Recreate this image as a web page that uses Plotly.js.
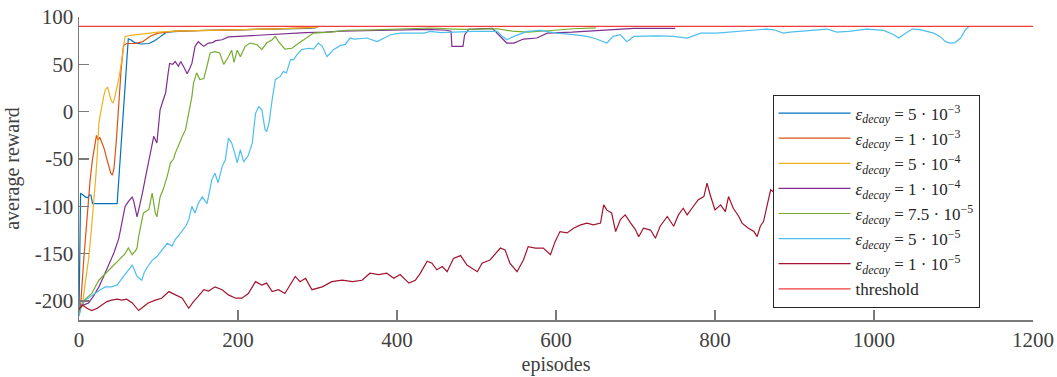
<!DOCTYPE html>
<html>
<head>
<meta charset="utf-8">
<script src="https://cdn.plot.ly/plotly-3.0.1.min.js"></script>
<style>html,body{margin:0;padding:0;background:#fff;}</style>
</head>
<body>
<div id="chart" style="width:1057px;height:377px;"></div>
<script>
// ---------------- data (episode, average reward) ----------------
const seriesNames = [
  '<i>ε</i><sub><i>decay</i></sub> = 5 · 10<sup>−3</sup>',
  '<i>ε</i><sub><i>decay</i></sub> = 1 · 10<sup>−3</sup>',
  '<i>ε</i><sub><i>decay</i></sub> = 5 · 10<sup>−4</sup>',
  '<i>ε</i><sub><i>decay</i></sub> = 1 · 10<sup>−4</sup>',
  '<i>ε</i><sub><i>decay</i></sub> = 7.5 · 10<sup>−5</sup>',
  '<i>ε</i><sub><i>decay</i></sub> = 5 · 10<sup>−5</sup>',
  '<i>ε</i><sub><i>decay</i></sub> = 1 · 10<sup>−5</sup>'
];
const thresholdName = 'threshold';

const ep_5e3 = [0,2,5,8,11,13,15,17,30,48,62,65,70,78,88,95,102,110,130,160,200,250,290,300];
const r_5e3  = [-215,-86,-88,-90,-91,-88,-88,-97,-97,-97,77,76,73,71.5,72,75,79,84,85,86,86.5,87,88,89];

const ep_1e3 = [0,2,6,10,14,17,20,22,24,26,29,32,35,38,40,42,44,47,50,53,56,60,70,80,90,100,120,150,200,250,300];
const r_1e3  = [-212,-205,-156,-111,-72,-50,-33,-25,-30,-27,-33,-40,-50,-60,-65,-67,-60,-30,10,45,70,72,72,74,80,83,85,85.5,86.5,87.5,89];

const ep_5e4 = [0,4,8,12,15,18,21,23,25,27,29,31,33,36,39,41,43,45,48,50,53,56,58,65,80,100,121,150,200,250,300];
const r_5e4  = [-210,-206,-180,-156,-130,-104,-70,-45,-12,-2,9,16,23,26,16,11,9,15,27,34,50,70,79.5,80.5,82,84,85,85.5,86.5,87.5,89];

const ep_1e4 = [0,2,6,12,18,25,30,35,40,44,50,54,58,62,67,69,71,73,75,77,80,83,87,90,94,98,100,102,105,109,112,114,118,121,125,128,132,136,139,142,146,150,154,157,160,163,168,172,180,188,200,220,240,260,285,310,330,360,400,440,462,468,469,483,485,490,520,526,532,538,547,559,576,589,620,664,698,750];
const r_1e4  = [-215,-206,-204,-202,-195,-185,-176,-167,-158,-149,-134,-118,-100,-95,-90,-95,-105,-111,-104,-97,-85,-72,-54,-40,-26,-33,-15,2,10,20,40,51,50,53,48,53,47,40,45,51,69,74,71,69,71,72.5,73,75,76,79,79.5,80.5,81,82,83.5,84,85,85.5,86,87,86,85,69,69,81,87,88,83,77,72.5,72.5,76.7,77.8,83,84,86,88,88];

const ep_75e5 = [0,2,8,16,25,33,41,50,58,62,67,71,73,75,79,81,85,88,92,94,96,98,100,102,106,111,115,119,121,125,130,134,138,142,144,148,152,157,161,165,171,177,182,188,192,195,199,203,209,215,224,230,236,243,247,251,259,268,274,287,295,316,337,370,400,442,480,526,545,564,590,622,650];
const r_75e5  = [-215,-206,-198,-192,-178,-171,-164,-157,-150,-144,-151,-147,-144,-132,-114,-107,-105,-103,-86,-95,-107,-111,-100,-90,-82,-68,-54,-50,-44,-35,-26,-19,-2,16,30,41,34,35,48,62,63.5,62,50,58,65,52,65,58,69,72.5,70.7,65.5,72.5,76,79.5,74,66,67,71,78,83,84,86,86.5,87.3,88.4,87,87.6,85,84,85.5,87.6,88.5];

const ep_5e5 = [0,3,8,14,20,27,33,41,48,56,62,67,70,73,79,82,86,92,98,104,111,117,121,126,130,135,138,142,146,150,155,161,164,167,171,175,180,184,188,192,196,199,203,207,213,218,222,226,230,234,236,239,243,247,253,257,261,266,270,274,280,289,295,301,306,312,320,329,335,341,346,358,362,375,387,392,404,425,434,442,455,496,526,532,538,547,564,580,601,622,639,650,664,672,681,689,698,727,748,765,782,802,844,865,874,886,894,907,928,941,953,968,991,1012,1025,1031,1037,1048,1058,1075,1083,1090,1096,1102,1109,1115,1119];
const r_5e5  = [-216,-205,-199,-195,-192,-188,-185,-185,-183,-174,-167,-162,-168,-174,-178,-170,-164,-157,-153,-146,-139,-142,-135,-130,-125,-120,-114,-100,-107,-97,-90,-97,-85,-72,-65,-75,-58,-51,-28,-33,-44,-54,-40,-53,-46,-33,-2,5.5,2,-19,-21,-12,13,34,37,42.5,41,55,55,60,65.5,67,66,72.5,69,58,65.5,70,71,77.8,76.7,77.8,77.8,74,79,81.3,83,83,83,84.8,83.6,84.8,84.8,80,76,79.5,84.8,85.9,83,81.3,79.5,77,72.5,79.5,81.3,74,79.5,80,79.5,77.8,83,83,85.9,87.3,86.5,83,84,84.8,86.6,87.3,84,84.8,87.3,85.9,81.3,77.8,81.3,87.3,86.6,83,79.5,74,72.5,73,77.8,86.6,89.5];

const ep_1e5 = [0,4,10,16,23,29,35,41,48,54,60,67,75,81,87,96,104,113,121,130,138,144,150,157,163,171,180,188,197,205,213,222,230,236,243,251,259,272,278,285,293,306,318,331,344,356,366,377,387,396,404,415,423,429,438,444,450,457,463,471,480,488,501,507,517,530,536,542,551,559,565,574,584,593,599,605,614,622,631,639,647,656,660,664,670,675,681,687,694,700,704,710,719,725,731,740,748,754,760,765,771,779,786,790,794,800,807,813,817,823,830,834,842,849,853,857,861,866,870,874];
const r_1e5  = [-209,-204,-207.6,-210,-207.6,-204,-200.6,-199,-198,-199,-198,-202,-210,-206,-202,-199,-197,-190,-193.5,-197,-207.6,-200.6,-195,-188,-189.5,-185,-188,-193.5,-197,-197,-192,-179.5,-183,-181,-190,-188,-192,-174,-179.5,-176,-188,-185,-179.5,-178,-179.5,-178,-170.6,-172,-170.6,-176,-172,-181,-178,-171,-158,-160,-167,-163.6,-169,-155,-152,-162,-169,-160,-156.6,-144,-146,-160,-169,-156.6,-142.5,-144,-144,-151,-137,-126.6,-128,-123,-119.5,-117.7,-119.5,-117.7,-98.4,-104,-107,-126.6,-114,-109,-117.7,-124.8,-132,-123,-125,-133.6,-121,-110.7,-121,-109,-102,-109,-102,-93,-89.6,-75.5,-88,-103.7,-98.4,-105.5,-89.6,-102,-110.7,-117.7,-123,-126.6,-132,-121,-116,-96.6,-82.5,-85];

const thresholdX = [0, 1200];
const thresholdY = [90, 90];

const xTickVals = [0,200,400,600,800,1000,1200];
const xTickText = ['0','200','400','600','800','1000','1200'];
const yTickVals = [-200,-150,-100,-50,0,50,100];
const yTickText = ['-200','-150','-100','-50','0','50','100'];

const colors = ['#0072BD','#D95319','#EDB120','#7E2F8E','#77AC30','#4DBEEE','#A2142F'];
const xs = [ep_5e3, ep_1e3, ep_5e4, ep_1e4, ep_75e5, ep_5e5, ep_1e5];
const ys = [r_5e3, r_1e3, r_5e4, r_1e4, r_75e5, r_5e5, r_1e5];

const traces = xs.map((x, i) => ({
  x: x, y: ys[i], type: 'scatter', mode: 'lines', name: seriesNames[i],
  line: {color: colors[i], width: 1.2}
}));
traces.push({x: thresholdX, y: thresholdY, type: 'scatter', mode: 'lines', name: thresholdName,
  line: {color: '#f03c3c', width: 1.3}});

const FONT = 'Liberation Serif';
const axisCol = '#7a7a7a';
const textCol = '#404040';
const layout = {
  width: 1057, height: 377,
  margin: {l: 79, r: 24, t: 17, b: 57},
  paper_bgcolor: '#ffffff', plot_bgcolor: '#ffffff',
  font: {family: FONT, size: 20, color: textCol},
  xaxis: {
    range: [0, 1200], tickvals: xTickVals, ticktext: xTickText,
    ticks: 'inside', ticklen: 10, tickwidth: 1.5, tickcolor: axisCol,
    showline: true, linecolor: axisCol, linewidth: 1.5, mirror: false,
    showgrid: false, zeroline: false,
    tickfont: {family: FONT, size: 21, color: textCol},
    title: {text: 'episodes', font: {family: FONT, size: 20, color: textCol}, standoff: 6}
  },
  yaxis: {
    range: [-220, 100], tickvals: yTickVals, ticktext: yTickText,
    ticks: 'inside', ticklen: 10, tickwidth: 1.5, tickcolor: axisCol,
    showline: true, linecolor: axisCol, linewidth: 1.5, mirror: false,
    showgrid: false, zeroline: false,
    tickfont: {family: FONT, size: 21, color: textCol},
    title: {text: 'average reward', font: {family: FONT, size: 20, color: textCol}, standoff: 10}
  },
  showlegend: true,
  legend: {
    x: 0.727, y: 0.744, xanchor: 'left', yanchor: 'top',
    bgcolor: '#ffffff', bordercolor: '#262626', borderwidth: 1,
    font: {family: FONT, size: 17, color: '#262626'}, tracegroupgap: 0, itemwidth: 72
  }
};

Plotly.newPlot('chart', traces, layout, {displayModeBar: false, staticPlot: true});
</script>
</body>
</html>
